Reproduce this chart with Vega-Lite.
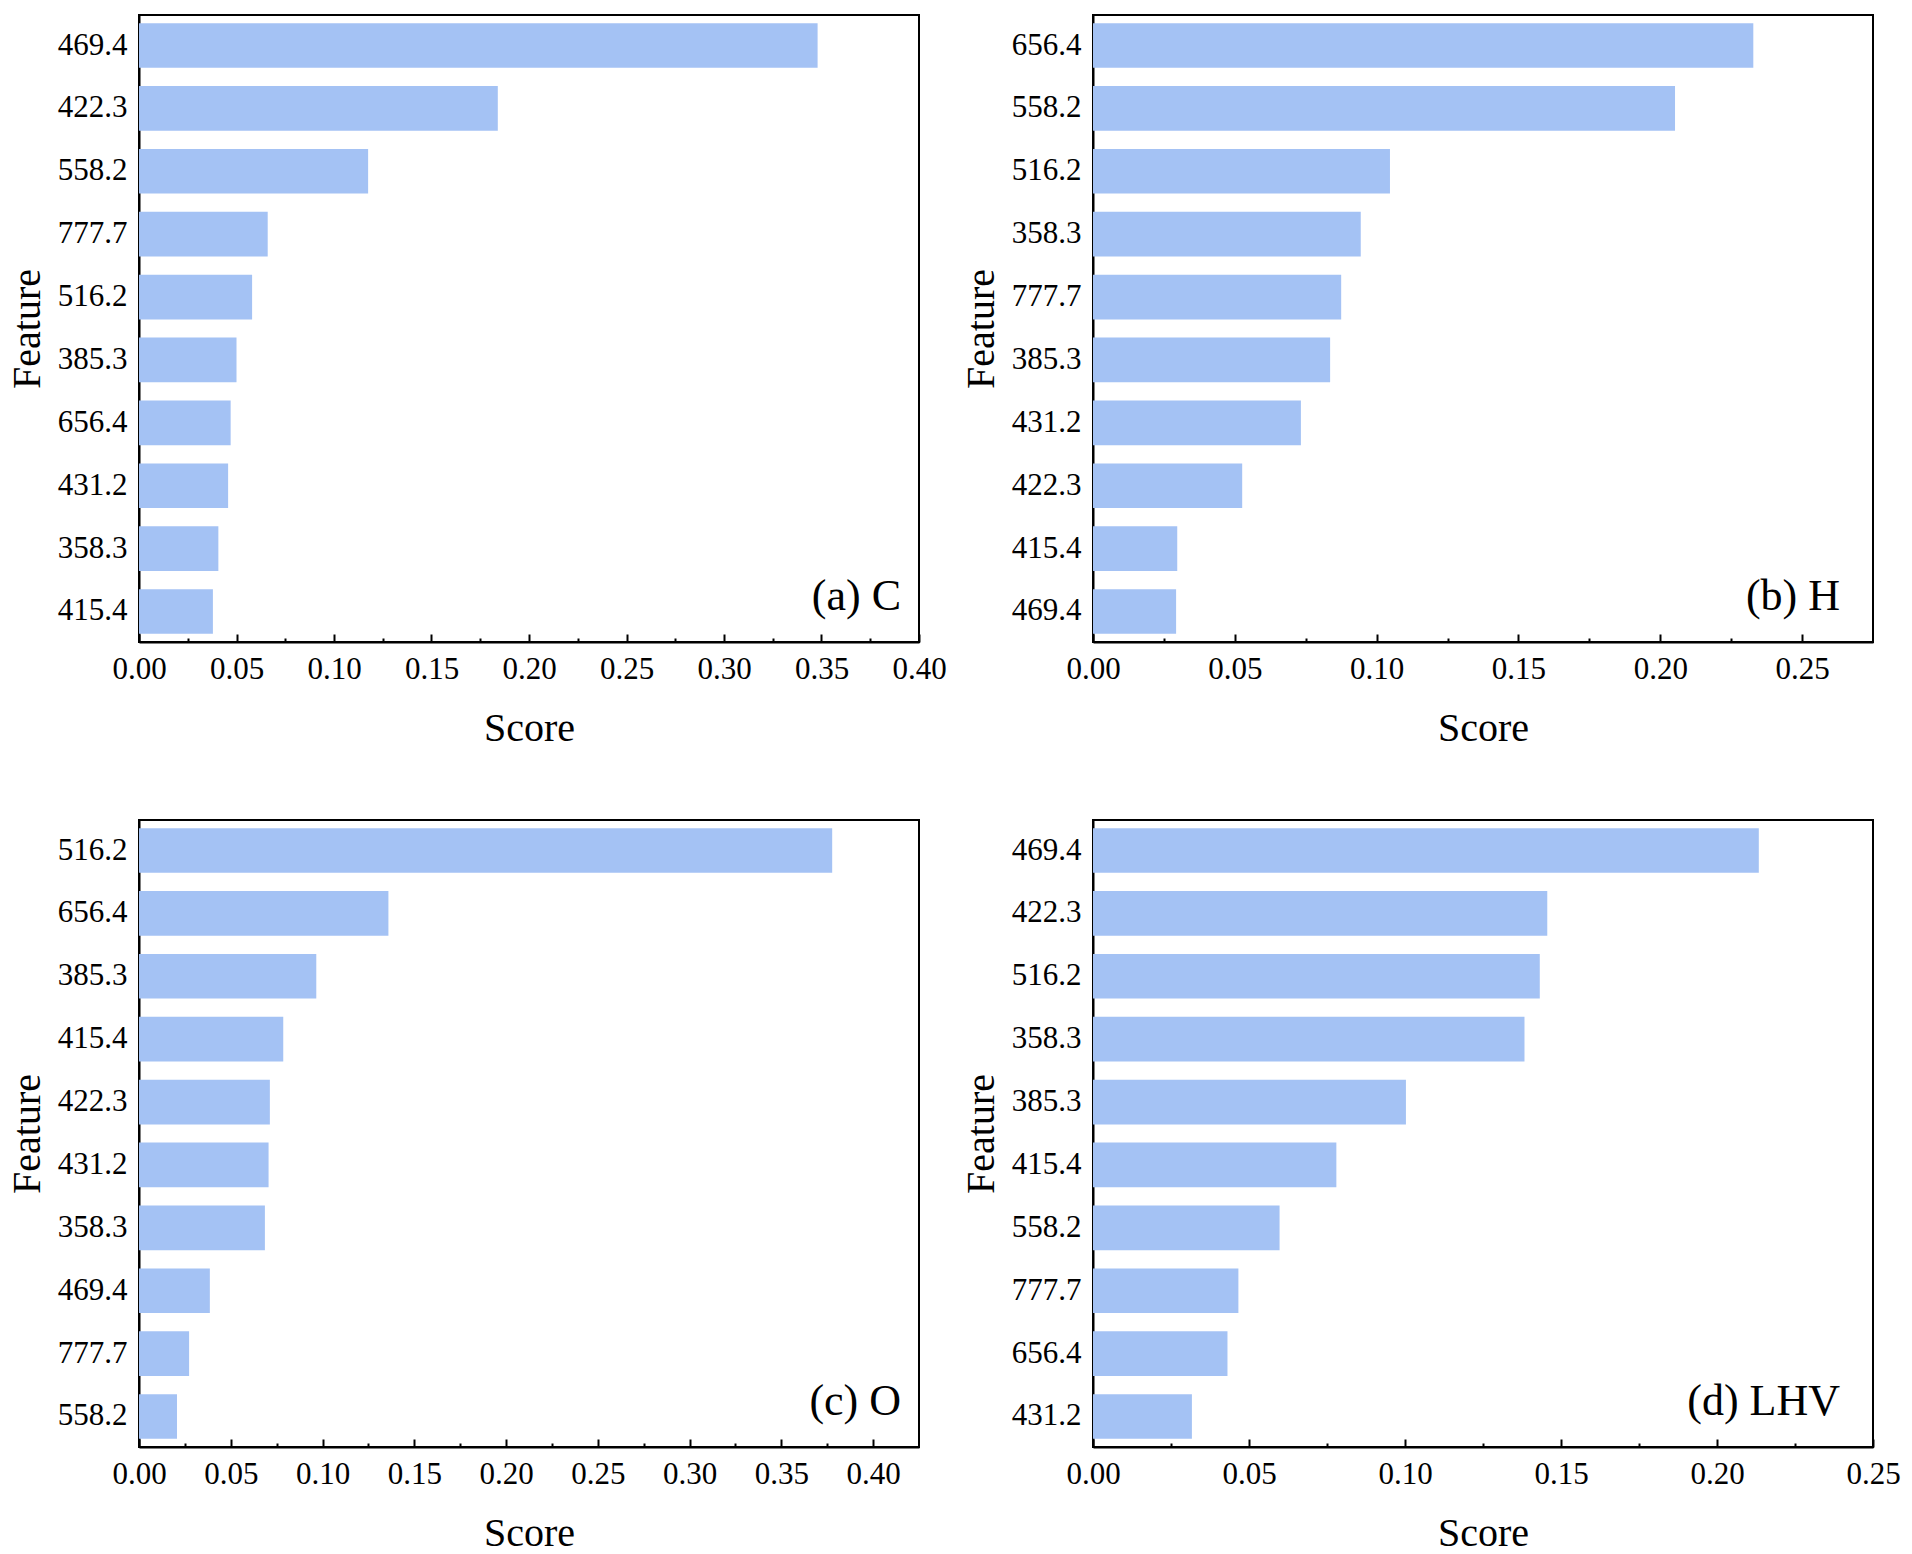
{
  "$schema": "https://vega.github.io/schema/vega-lite/v6.json",
  "background": "white",
  "padding": {"left": 6, "top": 14, "right": 5, "bottom": 5},
  "bounds": "flush",
  "columns": 2,
  "spacing": {"row": 178, "column": 174},
  "datasets": {
    "C": [
      {"feature": "469.4", "score": 0.348},
      {"feature": "422.3", "score": 0.184},
      {"feature": "558.2", "score": 0.1175},
      {"feature": "777.7", "score": 0.066},
      {"feature": "516.2", "score": 0.058},
      {"feature": "385.3", "score": 0.050},
      {"feature": "656.4", "score": 0.047},
      {"feature": "431.2", "score": 0.0457},
      {"feature": "358.3", "score": 0.0407},
      {"feature": "415.4", "score": 0.0379}
    ],
    "H": [
      {"feature": "656.4", "score": 0.2328},
      {"feature": "558.2", "score": 0.2052},
      {"feature": "516.2", "score": 0.1047},
      {"feature": "358.3", "score": 0.0944},
      {"feature": "777.7", "score": 0.0875},
      {"feature": "385.3", "score": 0.0836},
      {"feature": "431.2", "score": 0.0733},
      {"feature": "422.3", "score": 0.0526},
      {"feature": "415.4", "score": 0.0297},
      {"feature": "469.4", "score": 0.0293}
    ],
    "O": [
      {"feature": "516.2", "score": 0.3777},
      {"feature": "656.4", "score": 0.1359},
      {"feature": "385.3", "score": 0.0966},
      {"feature": "415.4", "score": 0.0786},
      {"feature": "422.3", "score": 0.0713},
      {"feature": "431.2", "score": 0.0706},
      {"feature": "358.3", "score": 0.0686},
      {"feature": "469.4", "score": 0.0386},
      {"feature": "777.7", "score": 0.0273},
      {"feature": "558.2", "score": 0.0207}
    ],
    "LHV": [
      {"feature": "469.4", "score": 0.2134},
      {"feature": "422.3", "score": 0.1456},
      {"feature": "516.2", "score": 0.1432},
      {"feature": "358.3", "score": 0.1383},
      {"feature": "385.3", "score": 0.1003},
      {"feature": "415.4", "score": 0.078},
      {"feature": "558.2", "score": 0.0598},
      {"feature": "777.7", "score": 0.0466},
      {"feature": "656.4", "score": 0.0431},
      {"feature": "431.2", "score": 0.0317}
    ]
  },
  "concat": [
    {
      "width": 780, "height": 627,
      "data": {"name": "C"},
      "title": {"text": "(a) C", "dx": -18},
      "mark": {"type": "bar", "color": "#a4c2f4"},
      "encoding": {
        "y": {"field": "feature", "type": "nominal", "sort": "-x", "title": "Feature"},
        "x": {"field": "score", "type": "quantitative", "title": "Score",
              "scale": {"domain": [0, 0.4], "nice": false},
              "axis": {"values": [0, 0.025, 0.05, 0.075, 0.1, 0.125, 0.15, 0.175, 0.2, 0.225, 0.25, 0.275, 0.3, 0.325, 0.35, 0.375, 0.4]}}
      }
    },
    {
      "width": 780, "height": 627,
      "data": {"name": "H"},
      "title": {"text": "(b) H", "dx": -33},
      "mark": {"type": "bar", "color": "#a4c2f4"},
      "encoding": {
        "y": {"field": "feature", "type": "nominal", "sort": "-x", "title": "Feature"},
        "x": {"field": "score", "type": "quantitative", "title": "Score",
              "scale": {"domain": [0, 0.275], "nice": false},
              "axis": {"values": [0, 0.025, 0.05, 0.075, 0.1, 0.125, 0.15, 0.175, 0.2, 0.225, 0.25]}}
      }
    },
    {
      "width": 780, "height": 627,
      "data": {"name": "O"},
      "title": {"text": "(c) O", "dx": -18},
      "mark": {"type": "bar", "color": "#a4c2f4"},
      "encoding": {
        "y": {"field": "feature", "type": "nominal", "sort": "-x", "title": "Feature"},
        "x": {"field": "score", "type": "quantitative", "title": "Score",
              "scale": {"domain": [0, 0.425], "nice": false},
              "axis": {"values": [0, 0.025, 0.05, 0.075, 0.1, 0.125, 0.15, 0.175, 0.2, 0.225, 0.25, 0.275, 0.3, 0.325, 0.35, 0.375, 0.4]}}
      }
    },
    {
      "width": 780, "height": 627,
      "data": {"name": "LHV"},
      "title": {"text": "(d) LHV", "dx": -33},
      "mark": {"type": "bar", "color": "#a4c2f4"},
      "encoding": {
        "y": {"field": "feature", "type": "nominal", "sort": "-x", "title": "Feature"},
        "x": {"field": "score", "type": "quantitative", "title": "Score",
              "scale": {"domain": [0, 0.25], "nice": false},
              "axis": {"values": [0, 0.025, 0.05, 0.075, 0.1, 0.125, 0.15, 0.175, 0.2, 0.225, 0.25]}}
      }
    }
  ],
  "config": {
    "font": "Liberation Serif",
    "view": {"stroke": "black", "strokeWidth": 2},
    "scale": {"bandPaddingInner": 0.29, "bandPaddingOuter": 0.13},
    "title": {
      "orient": "top", "anchor": "end", "frame": "group",
      "offset": -604, "baseline": "alphabetic",
      "font": "Liberation Serif", "fontSize": 44, "fontWeight": "normal", "color": "black"
    },
    "axis": {
      "domainColor": "black", "domainWidth": 2,
      "tickColor": "black", "tickWidth": 2,
      "labelColor": "black", "labelFont": "Liberation Serif", "labelFontSize": 31,
      "titleColor": "black", "titleFont": "Liberation Serif", "titleFontSize": 40, "titleFontWeight": "normal",
      "grid": false
    },
    "axisX": {
      "tickSize": {"condition": {"test": "round(datum.value * 40) % 2 == 1", "value": -4}, "value": -8},
      "labelExpr": "round(datum.value * 40) % 2 == 0 ? format(datum.value, '.2f') : ''",
      "labelPadding": 20, "titlePadding": 20, "labelFlush": false, "labelOverlap": false
    },
    "axisY": {
      "tickSize": -8, "labelPadding": 20, "titlePadding": 10
    }
  }
}
